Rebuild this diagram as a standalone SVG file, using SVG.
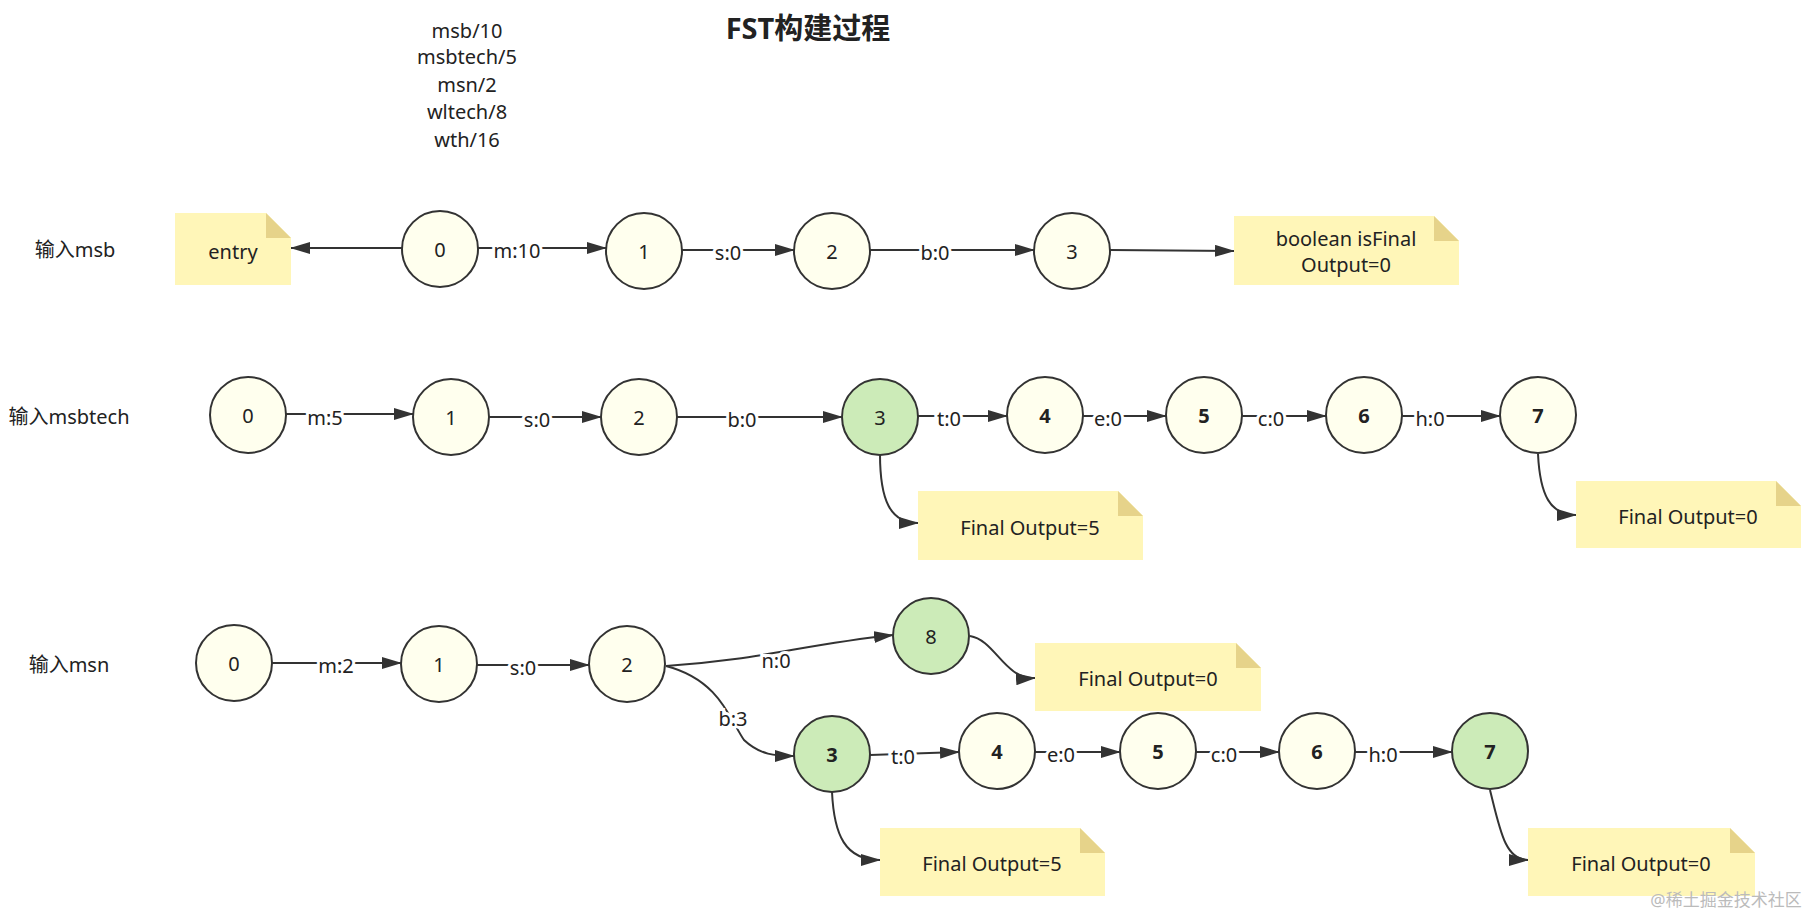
<svg xmlns="http://www.w3.org/2000/svg" width="1810" height="917" viewBox="0 0 1810 917">
<defs>
<marker id="a" viewBox="0 0 10 10" refX="9" refY="5" markerWidth="10" markerHeight="10" markerUnits="userSpaceOnUse" orient="auto"><path d="M0,0 L10,5 L0,10 z" fill="#333"/></marker>
<marker id="ar" viewBox="0 0 20 12" refX="19" refY="6" markerWidth="20" markerHeight="12" markerUnits="userSpaceOnUse" orient="auto"><path d="M0,0 L20,6 L0,12 z" fill="#333"/></marker>
</defs>
<style>
text{font-family:"Noto Sans","Noto Sans CJK SC",sans-serif;font-size:20px;fill:#222;text-anchor:middle;dominant-baseline:central}
.n{fill:#FFFFEE;stroke:#333;stroke-width:2}
.g{fill:#CCEBB8;stroke:#333;stroke-width:2}
.b{font-weight:bold}
.note{fill:#FFF6B8}
.fold{fill:#E6D38A}
.e{fill:none;stroke:#333;stroke-width:2;marker-end:url(#ar)}
.l{paint-order:stroke;stroke:#fff;stroke-width:6}
.lab{text-anchor:start}
</style>
<rect width="1810" height="917" fill="#fff"/>
<text x="808" y="27" class="b" style="font-size:29px">FST构建过程</text>
<g id="words"><text x="467" y="30">msb/10</text><text x="467" y="56">msbtech/5</text><text x="467" y="84">msn/2</text><text x="467" y="111">wltech/8</text><text x="467" y="139">wth/16</text></g>
<text x="75" y="249">输入msb</text>
<text x="69" y="416">输入msbtech</text>
<text x="69" y="664">输入msn</text>
<g id="connectors">
<line class="e" x1="402" y1="248" x2="291" y2="248"/>
<line class="e" x1="478" y1="248" x2="606" y2="248"/>
<line class="e" x1="682" y1="250" x2="794" y2="250"/>
<line class="e" x1="870" y1="250" x2="1034" y2="250"/>
<line class="e" x1="1110" y1="250" x2="1234" y2="251"/>
<line class="e" x1="286" y1="414" x2="413" y2="414"/>
<line class="e" x1="489" y1="417" x2="601" y2="417"/>
<line class="e" x1="677" y1="417" x2="842" y2="417"/>
<line class="e" x1="918" y1="416" x2="1007" y2="416"/>
<line class="e" x1="1083" y1="416" x2="1166" y2="416"/>
<line class="e" x1="1242" y1="416" x2="1326" y2="416"/>
<line class="e" x1="1402" y1="416" x2="1500" y2="416"/>
<path class="e" d="M880,454 C880,500 890,523 918,523"/>
<path class="e" d="M1538,454 C1540,495 1550,515 1576,515"/>
<line class="e" x1="272" y1="663" x2="401" y2="663"/>
<line class="e" x1="477" y1="665" x2="589" y2="665"/>
<path class="e" d="M666,666 C760,660 800,645 893,635"/>
<path class="e" d="M666,666 C720,680 730,720 744,740 C760,755 775,756 794,756"/>
<path class="e" d="M970,636 C995,640 1005,680 1035,678"/>
<line class="e" x1="870" y1="755" x2="959" y2="752"/>
<line class="e" x1="1035" y1="752" x2="1120" y2="752"/>
<line class="e" x1="1196" y1="752" x2="1279" y2="752"/>
<line class="e" x1="1355" y1="752" x2="1452" y2="752"/>
<path class="e" d="M832,792 C834,835 845,860 880,860"/>
<path class="e" d="M1490,790 C1500,830 1505,860 1528,860"/>
<g class="l">
<text x="517" y="250">m:10</text><text x="728" y="252">s:0</text><text x="935" y="252">b:0</text>
<text x="325" y="417">m:5</text><text x="537" y="419">s:0</text><text x="742" y="419">b:0</text><text x="949" y="418">t:0</text><text x="1108" y="418">e:0</text><text x="1271" y="418">c:0</text><text x="1430" y="418">h:0</text>
<text x="336" y="665">m:2</text><text x="523" y="667">s:0</text><text x="776" y="660">n:0</text><text x="733" y="718">b:3</text>
<text x="903" y="756">t:0</text><text x="1061" y="754">e:0</text><text x="1224" y="754">c:0</text><text x="1383" y="754">h:0</text>
</g>
</g>
<g id="entry"><path class="note" d="M175,213 H266 L291,238 V285 H175 Z"/><path class="fold" d="M266,213 L291,238 H266 Z"/><text x="233" y="251">entry</text></g>
<g id="noteFinal"><path class="note" d="M1234,216 H1434 L1459,241 V285 H1234 Z"/><path class="fold" d="M1434,216 L1459,241 H1434 Z"/><text x="1346" y="238">boolean isFinal</text><text x="1346" y="264">Output=0</text></g>
<g id="r1n0"><circle class="n" cx="440" cy="249" r="38"/><text x="440" y="249">0</text></g>
<g id="r1n1"><circle class="n" cx="644" cy="251" r="38"/><text x="644" y="251">1</text></g>
<g id="r1n2"><circle class="n" cx="832" cy="251" r="38"/><text x="832" y="251">2</text></g>
<g id="r1n3"><circle class="n" cx="1072" cy="251" r="38"/><text x="1072" y="251">3</text></g>
<g id="r2n0"><circle class="n" cx="248" cy="415" r="38"/><text x="248" y="415">0</text></g>
<g id="r2n1"><circle class="n" cx="451" cy="417" r="38"/><text x="451" y="417">1</text></g>
<g id="r2n2"><circle class="n" cx="639" cy="417" r="38"/><text x="639" y="417">2</text></g>
<g id="r2n3"><circle class="g" cx="880" cy="417" r="38"/><text x="880" y="417">3</text></g>
<g id="r2n4"><circle class="n" cx="1045" cy="415" r="38"/><text x="1045" y="415" class="b">4</text></g>
<g id="r2n5"><circle class="n" cx="1204" cy="415" r="38"/><text x="1204" y="415" class="b">5</text></g>
<g id="r2n6"><circle class="n" cx="1364" cy="415" r="38"/><text x="1364" y="415" class="b">6</text></g>
<g id="r2n7"><circle class="n" cx="1538" cy="415" r="38"/><text x="1538" y="415" class="b">7</text></g>
<g id="r2note1"><path class="note" d="M918,491 H1118 L1143,516 V560 H918 Z"/><path class="fold" d="M1118,491 L1143,516 H1118 Z"/><text x="1030" y="527">Final Output=5</text></g>
<g id="r2note2"><path class="note" d="M1576,481 H1776 L1801,506 V548 H1576 Z"/><path class="fold" d="M1776,481 L1801,506 H1776 Z"/><text x="1688" y="516">Final Output=0</text></g>
<g id="r3n0"><circle class="n" cx="234" cy="663" r="38"/><text x="234" y="663">0</text></g>
<g id="r3n1"><circle class="n" cx="439" cy="664" r="38"/><text x="439" y="664">1</text></g>
<g id="r3n2"><circle class="n" cx="627" cy="664" r="38"/><text x="627" y="664">2</text></g>
<g id="r3n8"><circle class="g" cx="931" cy="636" r="38"/><text x="931" y="636">8</text></g>
<g id="r3n3"><circle class="g" cx="832" cy="754" r="38"/><text x="832" y="754" class="b">3</text></g>
<g id="r3n4"><circle class="n" cx="997" cy="751" r="38"/><text x="997" y="751" class="b">4</text></g>
<g id="r3n5"><circle class="n" cx="1158" cy="751" r="38"/><text x="1158" y="751" class="b">5</text></g>
<g id="r3n6"><circle class="n" cx="1317" cy="751" r="38"/><text x="1317" y="751" class="b">6</text></g>
<g id="r3n7"><circle class="g" cx="1490" cy="751" r="38"/><text x="1490" y="751" class="b">7</text></g>
<g id="r3note8"><path class="note" d="M1035,643 H1236 L1261,668 V711 H1035 Z"/><path class="fold" d="M1236,643 L1261,668 H1236 Z"/><text x="1148" y="678">Final Output=0</text></g>
<g id="r3note3"><path class="note" d="M880,828 H1080 L1105,853 V896 H880 Z"/><path class="fold" d="M1080,828 L1105,853 H1080 Z"/><text x="992" y="863">Final Output=5</text></g>
<g id="r3note7"><path class="note" d="M1528,828 H1730 L1755,853 V896 H1528 Z"/><path class="fold" d="M1730,828 L1755,853 H1730 Z"/><text x="1641" y="863">Final Output=0</text></g>
<text x="1726" y="899" style="font-size:17px;fill:#bbb">@稀土掘金技术社区</text>
</svg>
